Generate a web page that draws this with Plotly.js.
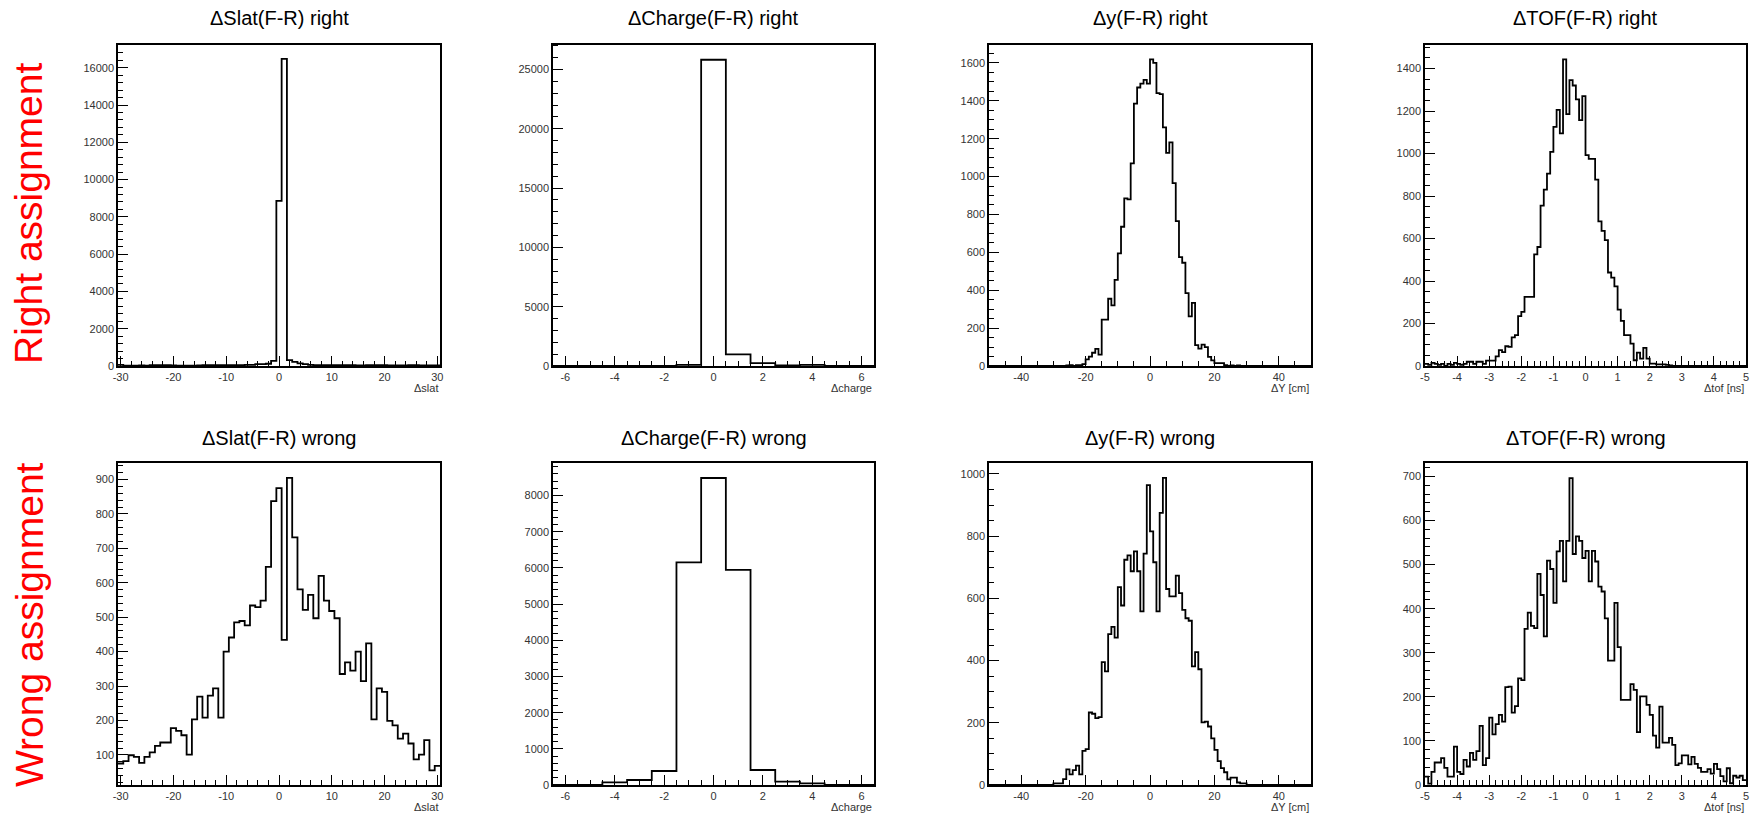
<!DOCTYPE html>
<html>
<head>
<meta charset="utf-8">
<script src="https://cdn.plot.ly/plotly-3.0.1.min.js"></script>
<style>
html,body{margin:0;padding:0;background:#ffffff;}
#chart{width:1750px;height:817px;}
</style>
</head>
<body>
<div id="chart"></div>
<script>
// ---------------- DATA (bin contents) ----------------
const panelTitles = ["\u0394Slat(F-R) right", "\u0394Charge(F-R) right", "\u0394y(F-R) right", "\u0394TOF(F-R) right",
                     "\u0394Slat(F-R) wrong", "\u0394Charge(F-R) wrong", "\u0394y(F-R) wrong", "\u0394TOF(F-R) wrong"];
const xAxisTitles = ["\u0394slat", "\u0394charge", "\u0394Y [cm]", "\u0394tof [ns]",
                     "\u0394slat", "\u0394charge", "\u0394Y [cm]", "\u0394tof [ns]"];
const rowLabels = ["Right assignment", "Wrong assignment"];

// x tick labels (ROOT style, plain hyphen minus)
const slatTickVals   = [-30, -20, -10, 0, 10, 20, 30];
const chargeTickVals = [-6, -4, -2, 0, 2, 4, 6];
const yTickVals      = [-40, -20, 0, 20, 40];
const tofTickVals    = [-5, -4, -3, -2, -1, 0, 1, 2, 3, 4, 5];

// histogram binning: [low edge, bin width]
const slatBinning   = [-30.5, 1];
const chargeBinning = [-6.5, 1];
const yBinning      = [-50, 1];
const tofBinning    = [-5, 0.1];

// bins -30..30
const slatRight = [60,20,20,20,30,20,40,40,40,40, 30,20,20,20,20,30,40,40,40,40,
                   40,40,40,40,60,60,100,100,120,280,
                   8860,16480,
                   320,220,140,100,60,50,50,50,40,40, 40,40,40,30,30,40,40,40,40,30,
                   30,30,30,40,40,30,30,30,30];
// bins -6..6
const chargeRight = [0,0,0,0,0,100,25815,983,250,50,100,0,0];
// bins -50..49
const yRight = [0,0,0,0,0,0,0,0,0,0, 0,0,0,0,0,0,0,0,0,0, 0,0,0,0,
                3,5,0,5,5,10,
                35,50,70,90,60,245,245,355,320,455, 595,735,885,880,1070,1385,1470,1490,1510,1490,
                1618,1600,1440,1435,1260,1125,1180,965,765,575, 545,385,262,333,110,92,113,100,48,30,
                15,15,15,5,
                0,3,0,3,0,0,0,0,0,0, 0,0,0,0,0,0,0,0,0,0, 0,0,0,0,0,0];
// bins -5.0..4.9
const tofRight = [10,5,15,10,5,10,0,10,5,15, 10,5,10,20,20,10,20,20,10,25,
                  25,25,45,75,65,93,90,135,145,235,
                  255,325,325,325,525,560,755,830,905,1008, 1125,1205,1095,1443,1185,1345,1320,1255,1157,1270,
                  992,975,975,877,681,636,592,440,416,375, 265,212,145,145,105,27,63,35,85,35,
                  11,11,8,8,8,5,3,0,0,0, 0,0,0,0,0,0,0,0,0,0, 0,0,0,0,0,0,0,0,0,0];
// bins -30..30
const slatWrong = [75,82,99,94,77,94,107,126,136,136, 178,170,157,101,203,269,208,272,293,208,
                   400,441,485,489,476,534,529,548,646,837,
                   875,434,905,
                   732,581,521,565,497,620,548,518,497,335, 369,345,400,314,424,203,293,283,199,186,
                   147,162,133,87,101,143,55,68];
// bins -6..6
const chargeWrong = [0,0,74,138,387,6153,8487,5950,415,92,46,0,0];
// bins -50..49
const yWrong = [0,0,0,0,0,0,0,0,0,0, 0,0,0,0,0,0,0,0,0,0,
                5,5,5,19,50,34,48,62,34,110, 115,233,229,215,218,395,365,485,508,474,
                636,577,724,738,687,751,687,558,744,964, 815,716,558,875,987,630,606,606,673,617,
                563,536,528,381,427,372,201,204,188,150, 113,77,54,41,18,24,24,8,5,5,
                0,0,0,0,0,0,0,0,0,0, 0,0,0,0,0,0,0,0,0,0];
// bins -5.0..4.9
const tofWrong = [19,3,30,51,51,61,39,19,19,87, 30,25,57,42,73,57,77,134,45,61,
                  153,115,138,159,144,222,223,164,179,242, 238,354,391,361,356,479,431,337,509,490,
                  413,530,554,462,554,696,524,564,554,515, 531,462,531,507,450,439,378,282,282,413,
                  313,193,193,193,229,216,120,201,201,182, 159,112,85,178,96,96,107,91,45,49,
                  67,67,47,64,48,39,30,30,36,26, 48,36,20,8,38,4,21,17,21,11];

const histograms = [
  [slatRight, slatBinning, slatTickVals], [chargeRight, chargeBinning, chargeTickVals],
  [yRight, yBinning, yTickVals], [tofRight, tofBinning, tofTickVals],
  [slatWrong, slatBinning, slatTickVals], [chargeWrong, chargeBinning, chargeTickVals],
  [yWrong, yBinning, yTickVals], [tofWrong, tofBinning, tofTickVals]
];

// ---------------- LAYOUT / STYLE ----------------
const W = 1750, H = 817;
const colPx = [[118, 440], [553, 874], [989, 1311], [1425, 1746]];
const rowPx = [[44.5, 366], [463, 785]];
const titleYPx = [18, 438];
const rowLabelYPx = [214, 625];

const xRanges = [[-30.5, 30.5], [-6.5, 6.5], [-50, 50], [-5, 5], [-30.5, 30.5], [-6.5, 6.5], [-50, 50], [-5, 5]];
const yRanges = [[0, 17250], [0, 27100], [0, 1697], [0, 1513], [12.5, 948], [0, 8902], [0, 1035], [0, 730.5]];
const xMinor = [2, 0.5, 5, 0.2, 2, 0.5, 5, 0.2];
const yTicks = [[2000, 400], [5000, 1000], [200, 50], [200, 50], [100, 20], [1000, 200], [200, 50], [100, 20]];

const FONT = "Liberation Sans, Arial, Helvetica, sans-serif";

function binEdges(counts, binning) {
  const edges = [];
  for (let i = 0; i <= counts.length; i++) edges.push(binning[0] + i * binning[1]);
  return edges;
}

const traces = [];
const layout = {
  width: W, height: H,
  margin: {l: 0, r: 0, t: 0, b: 0},
  paper_bgcolor: "#ffffff", plot_bgcolor: "#ffffff",
  showlegend: false,
  font: {family: FONT, color: "#000"},
  annotations: []
};

histograms.forEach((h, i) => {
  const counts = h[0], binning = h[1], tickVals = h[2];
  const n = i + 1;
  const col = i % 4, row = Math.floor(i / 4);
  const xs = binEdges(counts, binning);
  const ys = counts.concat([counts[counts.length - 1]]);
  traces.push({
    type: "scatter", mode: "lines",
    x: xs, y: ys,
    xaxis: "x" + n, yaxis: "y" + n,
    line: {shape: "hv", color: "#000", width: 1.8},
    hoverinfo: "x+y"
  });
  const common = {
    showline: true, mirror: true, linecolor: "#000", linewidth: 1.5,
    ticks: "inside", ticklen: 10, tickwidth: 1, tickcolor: "#000",
    showgrid: false, zeroline: false,
    tickfont: {family: FONT, size: 11, color: "#333"}
  };
  layout["xaxis" + n] = Object.assign({}, common, {
    domain: [colPx[col][0] / W, colPx[col][1] / W],
    anchor: "y" + n,
    range: xRanges[i],
    tickmode: "array",
    tickvals: tickVals,
    ticktext: tickVals.map(v => String(v)),
    minor: {tickmode: "linear", dtick: xMinor[i], tick0: 0, ticks: "inside", ticklen: 5, tickwidth: 1, tickcolor: "#000", showgrid: false}
  });
  layout["yaxis" + n] = Object.assign({}, common, {
    domain: [1 - rowPx[row][1] / H, 1 - rowPx[row][0] / H],
    anchor: "x" + n,
    range: yRanges[i],
    tick0: 0, dtick: yTicks[i][0],
    tickformat: "d",
    minor: {dtick: yTicks[i][1], tick0: 0, ticks: "inside", ticklen: 5, tickwidth: 1, tickcolor: "#000", showgrid: false}
  });
  // panel title
  layout.annotations.push({
    text: panelTitles[i], showarrow: false,
    xref: "paper", yref: "paper",
    x: (colPx[col][0] + colPx[col][1]) / 2 / W, y: 1 - titleYPx[row] / H,
    xanchor: "center", yanchor: "middle",
    font: {family: FONT, size: 20, color: "#000"}
  });
  // x-axis title, right aligned under the axis
  layout.annotations.push({
    text: xAxisTitles[i], showarrow: false,
    xref: "x" + n + " domain", yref: "y" + n + " domain",
    x: 1, y: 0, xanchor: "right", yanchor: "middle", yshift: -22,
    font: {family: FONT, size: 11, color: "#333"}
  });
});

rowLabels.forEach((t, r) => {
  layout.annotations.push({
    text: t, showarrow: false, textangle: -90,
    xref: "paper", yref: "paper",
    x: 29 / W, y: 1 - rowLabelYPx[r] / H,
    xanchor: "center", yanchor: "middle",
    font: {family: FONT, size: 39, color: "#ff0000"}
  });
});

Plotly.newPlot("chart", traces, layout, {displayModeBar: false, responsive: false});
</script>
</body>
</html>
